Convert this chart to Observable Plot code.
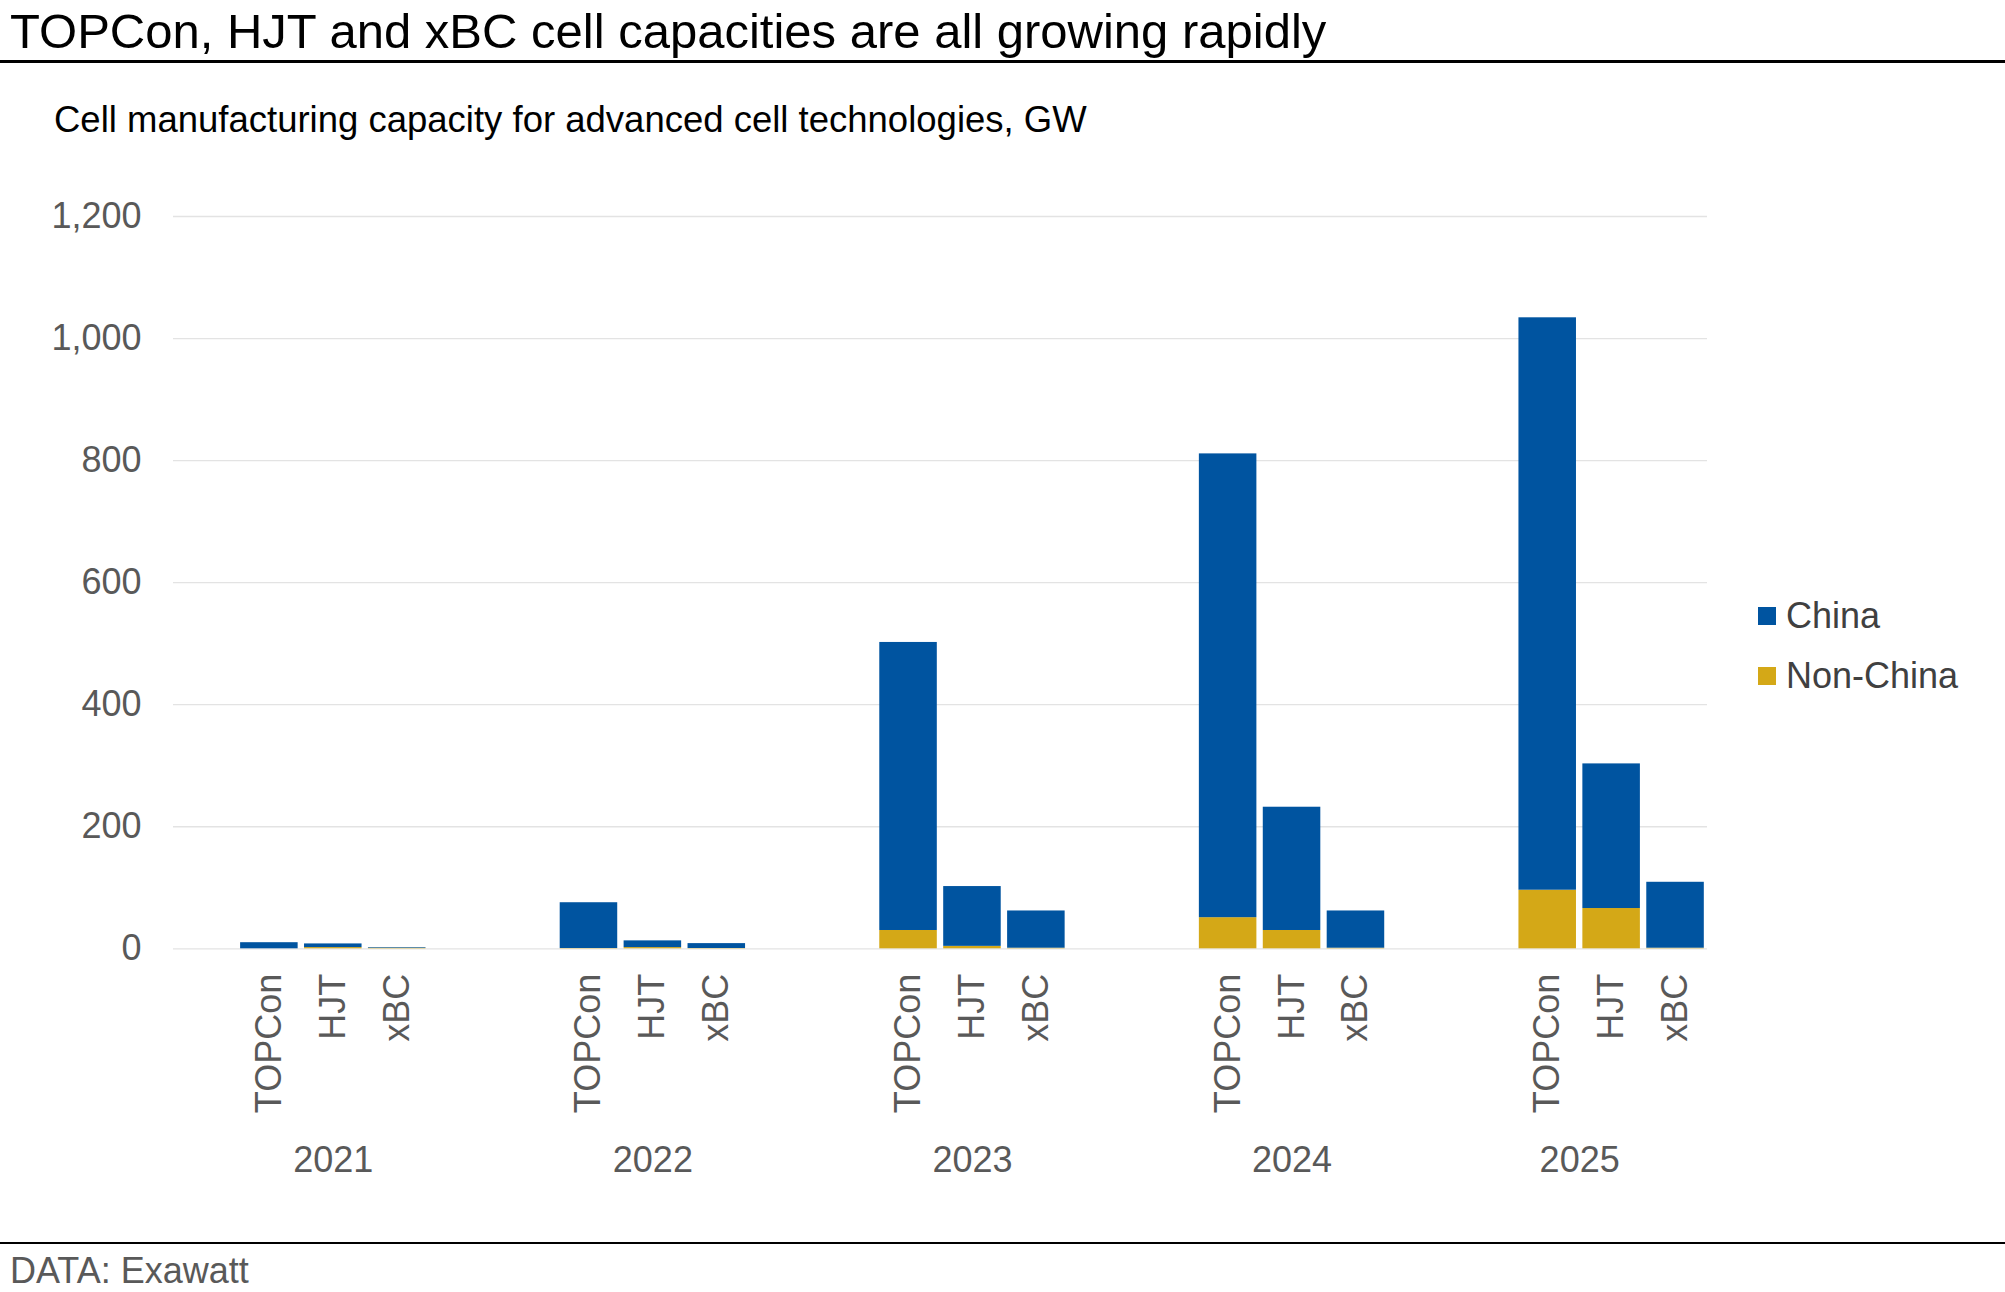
<!DOCTYPE html>
<html><head><meta charset="utf-8">
<script src="https://cdn.jsdelivr.net/npm/d3@7"></script>
<script src="https://cdn.jsdelivr.net/npm/@observablehq/plot@0.6"></script>
<style>
body{margin:0;background:#fff;}
#wrap{position:relative;width:2005px;height:1292px;font-family:"Liberation Sans",Arial,sans-serif;overflow:hidden;background:#fff}
.t{position:absolute;white-space:nowrap;line-height:1}
.rule{position:absolute;left:0;width:2005px;background:#000}
#chart{position:absolute;left:0;top:150px}
.sw{position:absolute;width:18px;height:18px}
</style></head><body><div id="wrap">
<div class="t" style="left:10px;top:6.7px;font-size:49px;color:#000">TOPCon, HJT and xBC cell capacities are all growing rapidly</div>
<div class="rule" style="top:60px;height:3px"></div>
<div class="t" style="left:54px;top:102px;font-size:36.5px;color:#000">Cell manufacturing capacity for advanced cell technologies, GW</div>
<div id="chart"></div>
<div id="legend"></div>
<div class="rule" style="top:1241.5px;height:2px"></div>
<div class="t" style="left:10px;top:1253px;font-size:36px;color:#595959">DATA: Exawatt</div>
</div>
<script>
const years = ["2021", "2022", "2023", "2024", "2025"];
const techs = ["TOPCon", "HJT", "xBC"];
// China capacity, GW, per year for each technology
const chinaTOPCon = [10, 75, 472, 760, 938];
const chinaHJT = [6, 11, 98, 202, 237];
const chinaXBC = [1, 8, 61, 61, 108];
// Non-China capacity, GW
const nonChinaTOPCon = [0, 0.5, 30, 51, 96];
const nonChinaHJT = [2, 2, 4, 30, 66];
const nonChinaXBC = [1, 0.5, 1, 1, 1];
const legendRegions = ["China", "Non-China"];
const legendColors = ["#0054A0", "#D4A817"];
const yTicks = [0, 200, 400, 600, 800, 1000, 1200];

const china = {TOPCon: chinaTOPCon, HJT: chinaHJT, xBC: chinaXBC};
const nonChina = {TOPCon: nonChinaTOPCon, HJT: nonChinaHJT, xBC: nonChinaXBC};

const keyOf = (y, t) => `${y} ${t}`;
const domain = years.flatMap((y, i) => [
  `${y} pre`,
  ...techs.map(t => keyOf(y, t)),
  ...(i < years.length - 1 ? [`${y} post`] : [])
]);
const techOfKey = new Map(years.flatMap(y => techs.map(t => [keyOf(y, t), t])));

const rows = [];
years.forEach((y, i) => techs.forEach(t => {
  rows.push({key: keyOf(y, t), region: "Non-China", value: nonChina[t][i]});
  rows.push({key: keyOf(y, t), region: "China", value: china[t][i]});
}));

const W = 2005, H = 1090, mL = 173, mR = 298, mT = 66, mB = 291.7;
const step = (W - mL - mR) / domain.length;
const lastYear = years[years.length - 1];
const yearRows = years.filter(y => y !== lastYear).map(y => ({key: keyOf(y, "HJT"), year: y}));
const lastRows = [{key: keyOf(lastYear, "HJT"), year: lastYear}];
const font = "'Liberation Sans', Arial, sans-serif";

const chart = Plot.plot({
  width: W, height: H,
  marginLeft: mL, marginRight: mR, marginTop: mT, marginBottom: mB,
  style: {fontFamily: font, fontSize: "36px", color: "#595959", background: "transparent", overflow: "visible"},
  x: {type: "band", domain, paddingInner: 0.1, paddingOuter: 0.05, align: 0.5, round: false},
  y: {domain: [0, 1200]},
  color: {domain: legendRegions, range: legendColors},
  marks: [
    Plot.gridY(yTicks, {stroke: "#e3e3e3", strokeOpacity: 1, strokeWidth: 1.3}),
    Plot.barY(rows, {x: "key", y: "value", fill: "region", order: ["Non-China", "China"]}),
    Plot.axisY(yTicks, {tickSize: 0, tickPadding: 32, tickFormat: d3.format(","), fontSize: 36, label: null}),
    Plot.axisX({tickRotate: -90, tickSize: 0, tickPadding: 25, tickFormat: k => techOfKey.get(k) ?? "", fontSize: 36, label: null}),
    Plot.text(yearRows, {x: "key", text: "year", frameAnchor: "bottom", dy: 223, fontSize: 36, fill: "#595959"}),
    Plot.text(lastRows, {x: "key", text: "year", frameAnchor: "bottom", dy: 223, dx: -step / 2, fontSize: 36, fill: "#595959"})
  ]
});
document.getElementById("chart").appendChild(chart);

// legend
const legend = document.getElementById("legend");
const legendTops = [597.5, 657.5];
legendRegions.forEach((r, i) => {
  const sw = document.createElement("div");
  sw.className = "sw";
  sw.style.left = "1758px";
  sw.style.top = (legendTops[i] + 9.5) + "px";
  sw.style.background = legendColors[i];
  legend.appendChild(sw);
  const tx = document.createElement("div");
  tx.className = "t";
  tx.style.left = "1786px";
  tx.style.top = legendTops[i] + "px";
  tx.style.fontSize = "36px";
  tx.style.color = "#404040";
  tx.textContent = r;
  legend.appendChild(tx);
});
</script>
</body></html>
